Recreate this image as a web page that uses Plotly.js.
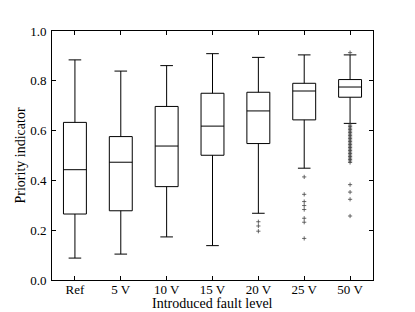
<!DOCTYPE html>
<html>
<head>
<meta charset="utf-8">
<script src="https://cdn.plot.ly/plotly-3.0.1.min.js"></script>
<style>html,body{margin:0;padding:0;background:#fff;}#chart{width:415px;height:312px;}</style>
</head>
<body>
<div id="chart"></div>
<script>
const categories = ["Ref", "5 V", "10 V", "15 V", "20 V", "25 V", "50 V"];
const lowerWhisker = [0.088, 0.104, 0.173, 0.138, 0.268, 0.449, 0.629];
const q1Values     = [0.265, 0.278, 0.375, 0.501, 0.548, 0.643, 0.734];
const medians      = [0.443, 0.473, 0.538, 0.618, 0.679, 0.759, 0.775];
const q3Values     = [0.633, 0.576, 0.697, 0.750, 0.754, 0.790, 0.805];
const upperWhisker = [0.884, 0.839, 0.861, 0.909, 0.894, 0.904, 0.904];

const outliers20V = [0.234, 0.217, 0.196];
const outliers25V = [0.414, 0.344, 0.315, 0.299, 0.283, 0.248, 0.232, 0.167];
const outliers50V = [0.913, 0.622, 0.616, 0.610, 0.604, 0.598, 0.592, 0.586, 0.580,
  0.574, 0.568, 0.562, 0.556, 0.550, 0.544, 0.538, 0.532, 0.526, 0.520, 0.514,
  0.508, 0.502, 0.496, 0.490, 0.484, 0.478, 0.472, 0.383, 0.353, 0.324, 0.257];

const outlierGroups = [[4, outliers20V], [5, outliers25V], [6, outliers50V]];
const ox = [], oy = [];
outlierGroups.forEach(([i, vals]) => vals.forEach(v => { ox.push(categories[i]); oy.push(v); }));

const font = {family: "Liberation Serif, Times New Roman, serif", color: "#000"};

const traces = [
  {
    type: "box",
    x: categories,
    q1: q1Values,
    median: medians,
    q3: q3Values,
    lowerfence: lowerWhisker,
    upperfence: upperWhisker,
    boxpoints: false,
    width: 0.5,
    whiskerwidth: 0.55,
    fillcolor: "rgba(255,255,255,0)",
    line: {color: "#000", width: 1},
    hoverinfo: "skip",
    showlegend: false
  },
  {
    type: "scatter",
    mode: "markers",
    x: ox,
    y: oy,
    marker: {symbol: "cross-thin-open", size: 3, color: "#444", line: {color: "#444", width: 0.8}},
    hoverinfo: "skip",
    showlegend: false
  }
];

const layout = {
  width: 415,
  height: 312,
  margin: {l: 52, r: 42, t: 31, b: 32},
  paper_bgcolor: "#fff",
  plot_bgcolor: "#fff",
  font: Object.assign({size: 13}, font),
  showlegend: false,
  xaxis: {
    type: "category",
    categoryorder: "array",
    categoryarray: categories,
    range: [-0.5, 6.5],
    showline: true, linecolor: "#000", linewidth: 1, mirror: "ticks",
    ticks: "inside", ticklen: 4, tickcolor: "#000",
    showgrid: false, zeroline: false,
    tickfont: Object.assign({size: 13}, font),
    ticklabelstandoff: -3
  },
  yaxis: {
    range: [0, 1],
    dtick: 0.2,
    tick0: 0,
    tickformat: ".1f",
    showline: true, linecolor: "#000", linewidth: 1, mirror: "ticks",
    ticks: "inside", ticklen: 4, tickcolor: "#000",
    showgrid: false, zeroline: false,
    tickfont: Object.assign({size: 13}, font),
    ticklabelstandoff: 2
  },
  annotations: [
    {
      text: "Introduced fault level",
      xref: "paper", yref: "paper", x: 0.5, y: 0,
      xanchor: "center", yanchor: "top", yshift: -14,
      showarrow: false, font: Object.assign({size: 14}, font)
    },
    {
      text: "Priority indicator",
      xref: "paper", yref: "paper", x: 0, y: 0.5,
      xanchor: "center", yanchor: "middle", xshift: -32, textangle: -90,
      showarrow: false, font: Object.assign({size: 14}, font)
    }
  ]
};

Plotly.newPlot("chart", traces, layout, {displayModeBar: false, staticPlot: true});
</script>
</body>
</html>
